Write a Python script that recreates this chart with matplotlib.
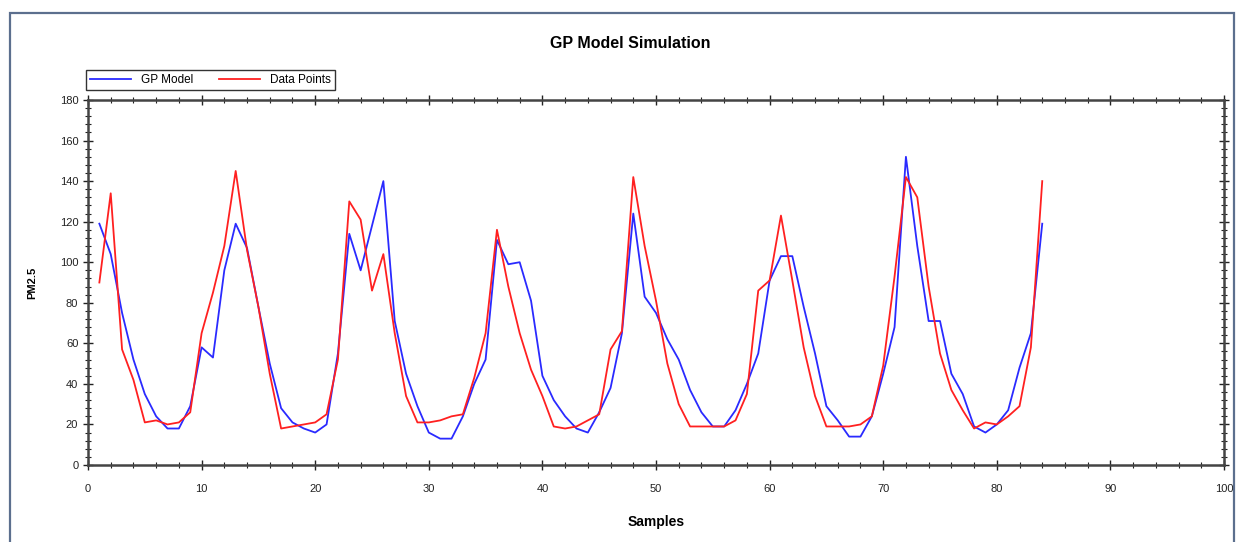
import matplotlib
matplotlib.use("Agg")
import matplotlib.pyplot as plt
from matplotlib.patches import Rectangle
from matplotlib.ticker import MultipleLocator

plt.rcParams['font.family'] = ['Liberation Sans', 'DejaVu Sans']

# sample index
samples = list(range(1, 85))

# GP model output (blue)
gp_model = [119, 104, 75, 52, 35, 24, 18, 18, 29, 58,
            53, 96, 119, 107, 78, 50, 28, 21, 18, 16,
            20, 55, 114, 96, 118, 140, 71, 45, 29, 16,
            13, 13, 24, 40, 52, 111, 99, 100, 81, 44,
            32, 24, 18, 16, 26, 38, 65, 124, 83, 75,
            62, 52, 37, 26, 19, 19, 27, 40, 55, 91,
            103, 103, 78, 55, 29, 22, 14, 14, 24, 45,
            68, 152, 108, 71, 71, 45, 35, 19, 16, 20,
            27, 48, 65, 119]

# measured PM2.5 (red)
data_points = [90, 134, 57, 42, 21, 22, 20, 21, 26, 65,
               85, 108, 145, 106, 78, 45, 18, 19, 20, 21,
               25, 52, 130, 121, 86, 104, 65, 34, 21, 21,
               22, 24, 25, 43, 65, 116, 88, 65, 47, 34,
               19, 18, 19, 22, 25, 57, 66, 142, 108, 81,
               50, 30, 19, 19, 19, 19, 22, 35, 86, 91,
               123, 91, 58, 34, 19, 19, 19, 20, 24, 49,
               93, 142, 132, 88, 55, 37, 27, 18, 21, 20,
               24, 29, 58, 140]

fig = plt.figure(figsize=(12.42, 5.42), dpi=100)
fig.patches.append(Rectangle((10/1242, -0.02), 1224/1242, 1.02 - 13/542,
                             transform=fig.transFigure, fill=False,
                             edgecolor='#5c6f8e', lw=1.6))

ax = fig.add_axes([88/1242, 1 - 465/542, 1136/1242, 365/542])
ax.plot(samples, gp_model, color='#2a2aff', lw=1.3, label='GP Model')
ax.plot(samples, data_points, color='#ff2020', lw=1.3, label='Data Points')

ax.set_xlim(0, 100)
ax.set_ylim(0, 180)
ax.xaxis.set_major_locator(MultipleLocator(10))
ax.xaxis.set_minor_locator(MultipleLocator(2))
ax.yaxis.set_major_locator(MultipleLocator(20))
ax.yaxis.set_minor_locator(MultipleLocator(4))
ax.tick_params(which='both', direction='inout', top=True, right=True,
               labelsize=8, colors='#222222')
ax.tick_params(which='major', length=7, width=1)
ax.tick_params(which='minor', length=4, width=0.8)
ax.tick_params(axis='x', which='major', pad=10)
for s in ax.spines.values():
    s.set_linewidth(1.8)
    s.set_color('#444444')

ax.set_xlabel('Samples', fontsize=10, fontweight='bold', labelpad=15)
ax.set_ylabel('PM2.5', fontsize=8, fontweight='bold', labelpad=16)
fig.text(630/1242, 1 - 43/542, 'GP Model Simulation', ha='center', va='center',
         fontsize=11.5, fontweight='bold')

leg = ax.legend(loc='lower left', bbox_to_anchor=(-0.002, 1.027), ncol=2,
                fontsize=8.5, frameon=True, fancybox=False, borderaxespad=0,
                handlelength=3.5, columnspacing=2.2, borderpad=0.35)
leg.get_frame().set_edgecolor('black')
leg.get_frame().set_linewidth(1.0)

fig.savefig('out.png', dpi=100)
